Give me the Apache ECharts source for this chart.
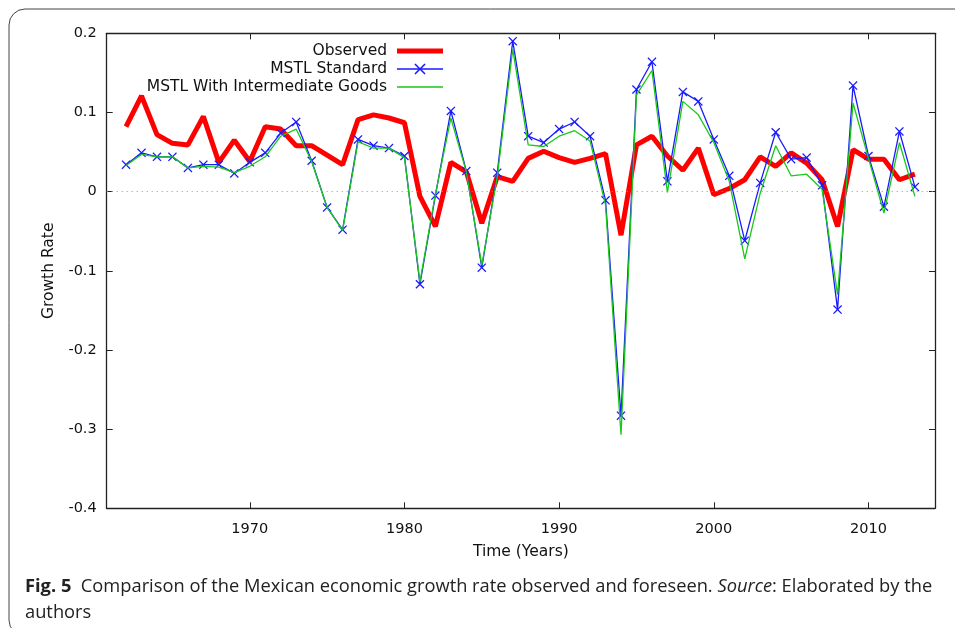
<!DOCTYPE html>
<html>
<head>
<meta charset="utf-8">
<script src="https://cdn.jsdelivr.net/npm/echarts@6/dist/echarts.min.js"></script>
<style>
html,body{margin:0;padding:0;background:#fff;}
#chart{width:955px;height:628px;}
</style>
</head>
<body>
<div id="chart"></div>
<script>
const years = [1962,1963,1964,1965,1966,1967,1968,1969,1970,1971,1972,1973,1974,1975,1976,1977,1978,1979,1980,1981,1982,1983,1984,1985,1986,1987,1988,1989,1990,1991,1992,1993,1994,1995,1996,1997,1998,1999,2000,2001,2002,2003,2004,2005,2006,2007,2008,2009,2010,2011,2012,2013];
const observed = [0.082,0.121,0.072,0.061,0.059,0.095,0.037,0.065,0.038,0.082,0.079,0.058,0.058,0.046,0.034,0.091,0.097,0.093,0.087,-0.006,-0.044,0.037,0.025,-0.040,0.019,0.013,0.042,0.051,0.043,0.037,0.042,0.048,-0.055,0.059,0.070,0.045,0.027,0.055,-0.004,0.004,0.015,0.044,0.032,0.049,0.036,0.015,-0.044,0.053,0.041,0.041,0.015,0.022];
const mstlStandard = [0.034,0.049,0.044,0.044,0.030,0.034,0.034,0.023,0.037,0.049,0.074,0.088,0.039,-0.020,-0.048,0.066,0.058,0.055,0.045,-0.117,-0.005,0.102,0.026,-0.096,0.024,0.190,0.070,0.062,0.079,0.088,0.070,-0.011,-0.283,0.129,0.164,0.013,0.126,0.114,0.066,0.020,-0.062,0.011,0.075,0.041,0.043,0.008,-0.149,0.134,0.045,-0.019,0.076,0.006];
const mstlIntermediate = [0.033,0.047,0.044,0.044,0.030,0.032,0.031,0.024,0.032,0.044,0.070,0.079,0.038,-0.020,-0.049,0.063,0.055,0.055,0.043,-0.114,-0.003,0.093,0.025,-0.093,0.019,0.180,0.059,0.057,0.070,0.077,0.064,-0.017,-0.307,0.122,0.153,-0.001,0.114,0.097,0.062,0.013,-0.085,-0.002,0.058,0.020,0.022,0.003,-0.130,0.112,0.042,-0.027,0.062,-0.006];
const xTicks = [1970,1980,1990,2000,2010];
const seriesNames = ['Observed','MSTL Standard','MSTL With Intermediate Goods'];

const pair = arr => years.map((y,i)=>[y,arr[i]]);
const font = 'DejaVu Sans';
const axisCol = '#222';
const xMark = 'path://M0,1L1,0L5,4L9,0L10,1L6,5L10,9L9,10L5,6L1,10L0,9L4,5Z';
const hiddenSym = {color:'rgba(0,0,0,0)', borderWidth:0, opacity:0};

const chart = echarts.init(document.getElementById('chart'), null, {renderer:'canvas'});
chart.setOption({
  animation:false,
  backgroundColor:'#fff',
  grid:{left:106.7, right:20, top:33.3, bottom:119.7},
  legend:{
    orient:'vertical', align:'right', right:504.5, top:38,
    itemWidth:46, itemHeight:14, itemGap:2,
    textStyle:{fontFamily:font, fontSize:15.5, lineHeight:14, color:'#111', padding:[0,5,0,0]},
    data:[
      {name:seriesNames[0], itemStyle:hiddenSym, lineStyle:{width:5, color:'#ff0000'}},
      {name:seriesNames[1], lineStyle:{width:1.3, color:'#1a1aff'}},
      {name:seriesNames[2], itemStyle:hiddenSym, lineStyle:{width:1.3, color:'#19c819'}}
    ]
  },
  xAxis:[{
    type:'value', min:1960.75, max:2014.3, position:'bottom',
    name:'Time (Years)', nameLocation:'middle', nameGap:36,
    nameTextStyle:{fontFamily:font, fontSize:15.5, color:'#111'},
    axisLine:{show:true, onZero:false, lineStyle:{color:axisCol, width:1.3}},
    axisTick:{show:true, inside:true, length:6, customValues:xTicks, lineStyle:{color:axisCol}},
    axisLabel:{customValues:xTicks, margin:13, fontFamily:font, fontSize:14.5, color:'#111', formatter:v=>String(v)},
    splitLine:{show:false}
  },{
    type:'value', min:1960.75, max:2014.3, position:'top',
    axisLine:{show:true, onZero:false, lineStyle:{color:axisCol, width:1.3}},
    axisTick:{show:true, inside:true, length:6, customValues:xTicks, lineStyle:{color:axisCol}},
    axisLabel:{show:false},
    splitLine:{show:false}
  }],
  yAxis:[{
    type:'value', min:-0.4, max:0.2, interval:0.1, position:'left',
    name:'Growth Rate', nameLocation:'middle', nameGap:50, nameRotate:90,
    nameTextStyle:{fontFamily:font, fontSize:15.5, color:'#111'},
    axisLine:{show:true, onZero:false, lineStyle:{color:axisCol, width:1.3}},
    axisTick:{show:true, inside:true, length:6, lineStyle:{color:axisCol}},
    axisLabel:{margin:10, fontFamily:font, fontSize:14.5, color:'#111'},
    splitLine:{show:false}
  },{
    type:'value', min:-0.4, max:0.2, interval:0.1, position:'right',
    axisLine:{show:true, onZero:false, lineStyle:{color:axisCol, width:1.3}},
    axisTick:{show:true, inside:true, length:6, lineStyle:{color:axisCol}},
    axisLabel:{show:false},
    splitLine:{show:false}
  }],
  series:[{
    name:seriesNames[0], type:'line', data:pair(observed),
    symbol:'none', lineStyle:{color:'#ff0000', width:5}, itemStyle:{color:'#ff0000'},
    z:2,
    markLine:{silent:true, symbol:'none', label:{show:false},
      lineStyle:{color:'#999', type:[1,4], width:1}, data:[{yAxis:0}]}
  },{
    name:seriesNames[1], type:'line', data:pair(mstlStandard),
    symbol:xMark, symbolSize:9, showSymbol:true,
    lineStyle:{color:'#1a1aff', width:1.3}, itemStyle:{color:'#1a1aff'}, z:3
  },{
    name:seriesNames[2], type:'line', data:pair(mstlIntermediate),
    symbol:'none', lineStyle:{color:'#19c819', width:1.3}, itemStyle:{color:'#19c819'}, z:4
  }],
  graphic:[{
    type:'rect', shape:{x:9, y:9, width:970, height:627, r:16},
    style:{fill:'none', stroke:'#444', lineWidth:1}, silent:true
  },{
    type:'text', left:25, top:574,
    style:{
      text:'{b|Fig. 5}  Comparison of the Mexican economic growth rate observed and foreseen. {i|Source}: Elaborated by the\nauthors',
      fontFamily:'Open Sans', fontSize:18.3, fill:'#222', lineHeight:26,
      rich:{
        b:{fontFamily:'Open Sans', fontSize:18.3, fontWeight:'bold', fill:'#222', lineHeight:26},
        i:{fontFamily:'Open Sans', fontSize:18.3, fontStyle:'italic', fill:'#222', lineHeight:26}
      }
    }
  }]
});
</script>
</body>
</html>
